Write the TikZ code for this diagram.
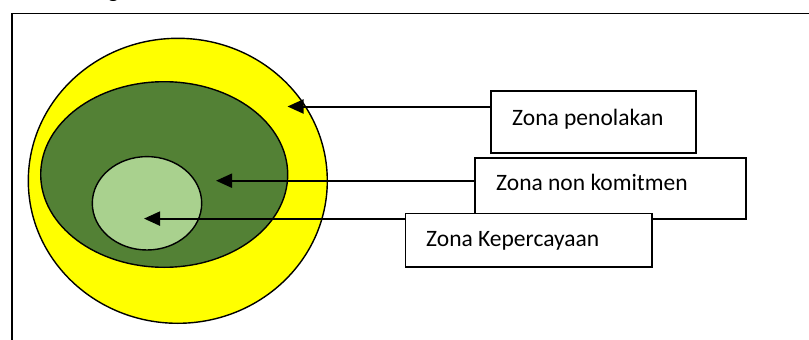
\documentclass[tikz,border=0pt]{standalone}
\usepackage{fontspec}
\setmainfont{Carlito}
\usetikzlibrary{shapes.geometric,arrows.meta}
\definecolor{zyellow}{HTML}{FFFF00}
\definecolor{zdark}{HTML}{538135}
\definecolor{zlight}{HTML}{A9D18E}
\begin{document}
\begin{tikzpicture}[x=1pt,y=-1pt,
  zone/.style={ellipse,draw=black,line width=1.4pt,inner sep=0pt},
  box/.style={rectangle,draw=black,fill=white,line width=1.8pt,inner sep=0pt},
  lbl/.style={anchor=base west,inner sep=0pt,font=\fontsize{23.5}{28}\selectfont},
  arr/.style={line width=2pt,-{Triangle[length=16pt,width=14pt]}}]
\useasboundingbox (0,0) rectangle (809,340);
\node[anchor=base,inner sep=0pt,font=\fontsize{23.5}{28}\selectfont] (head) at (113.5,-2) {g};
\draw[line width=1.8pt] (12,13.5) rectangle (840,370);
% zones
\node[zone,fill=zyellow,minimum width=299pt,minimum height=285pt] (outer) at (177.8,180.8) {};
\node[zone,fill=zdark,minimum width=247pt,minimum height=185.6pt] (mid) at (164.2,174.5) {};
\node[zone,fill=zlight,minimum width=109.4pt,minimum height=93.4pt] (inner) at (147,203.3) {};
% boxes
\node[box,minimum width=205pt,minimum height=62pt] (bpen) at (593.2,121.7) {};
\node[lbl] (tpen) at (512,125) {Zona penolakan};
\node[box,minimum width=270.7pt,minimum height=61.6pt] (bnon) at (610.3,188.5) {};
\node[lbl] (tnon) at (496,190) {Zona non komitmen};
\node[box,minimum width=246.2pt,minimum height=53.2pt] (bkep) at (528.6,240.1) {};
\node[lbl] (tkep) at (426,246.7) {Zona Kepercayaan};
% arrows
\coordinate (p1) at (287.5,106.5);
\coordinate (p2) at (216,180.7);
\coordinate (p3) at (144,218.6);
\draw[arr] (bpen.west |- p1) -- (p1);
\draw[arr] (bnon.west |- p2) -- (p2);
\draw[arr] (bkep.west |- p3) -- (p3);
\end{tikzpicture}
\end{document}
